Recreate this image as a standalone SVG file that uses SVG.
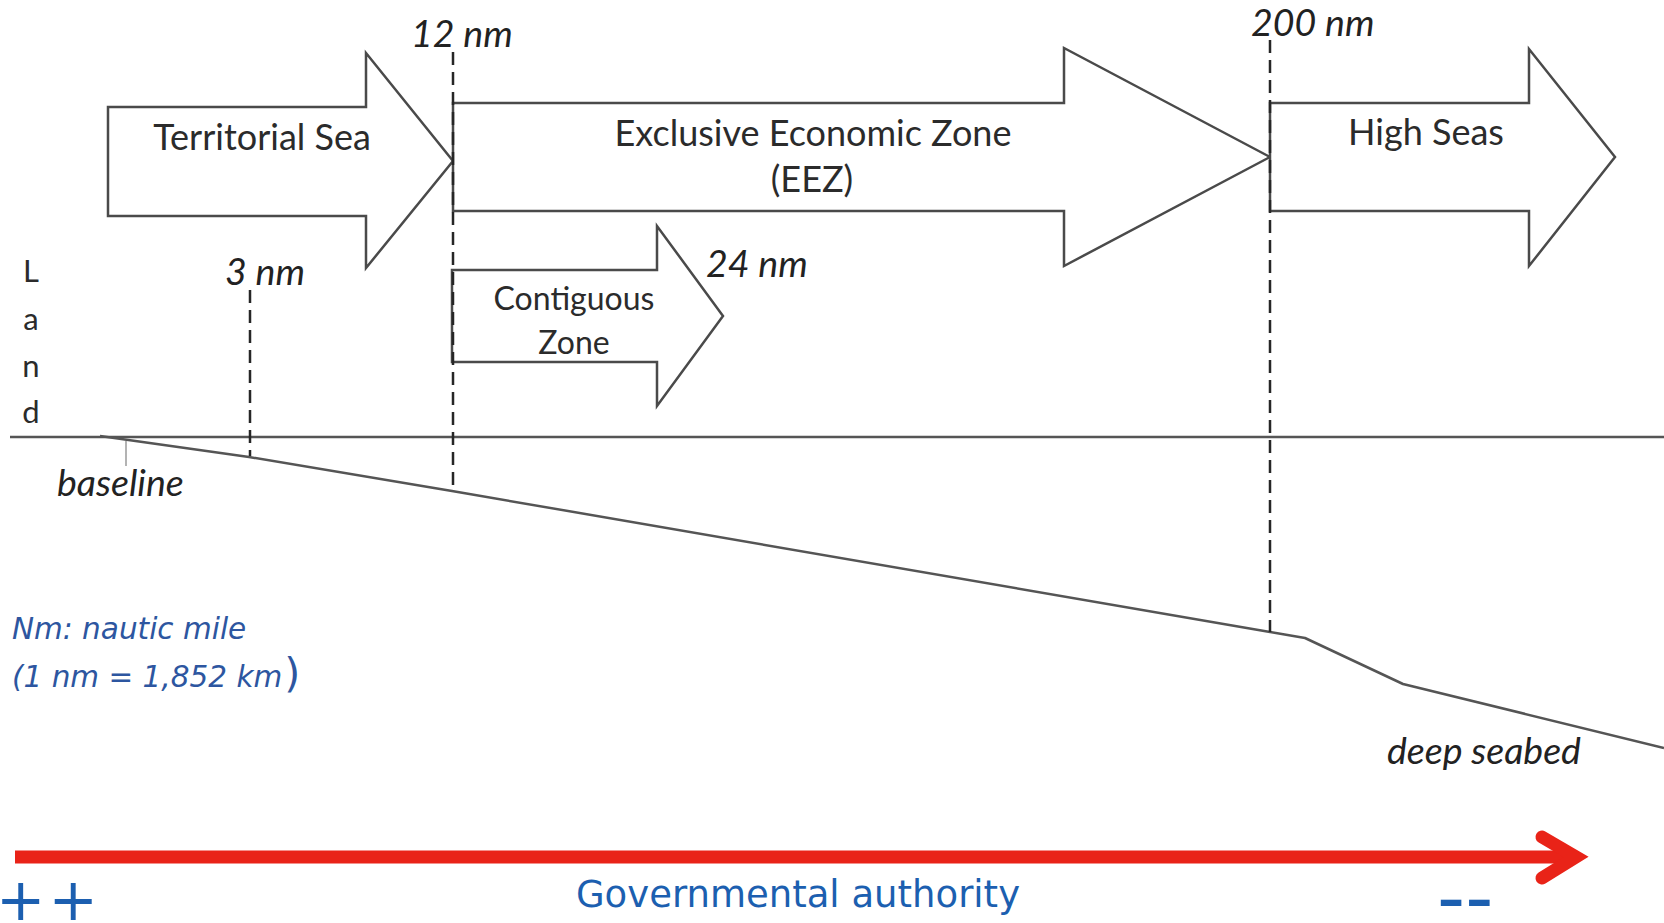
<svg xmlns="http://www.w3.org/2000/svg" width="1664" height="923" viewBox="0 0 1664 923">
  <style>
    .zone { fill: #ffffff; stroke: #4a4a4a; stroke-width: 2.5; stroke-linejoin: miter; }
    .zlabel { font-family: Lato, "Open Sans", sans-serif; font-size: 36px; fill: #2b2b2b; text-anchor: middle; }
    .zlabel.small { font-size: 32px; }
    .dist { font-family: Lato, "Open Sans", sans-serif; font-style: italic; font-size: 37.5px; fill: #222222; }
    .land { font-family: Lato, "Open Sans", sans-serif; font-size: 31px; fill: #2b2b2b; text-anchor: middle; }
    .limit { fill: none; stroke: #262626; stroke-width: 2.5; stroke-dasharray: 13 7; }
    .ground { fill: none; stroke: #555555; stroke-width: 2.5; stroke-linejoin: round; }
    .note { font-family: "DejaVu Sans", Verdana, sans-serif; font-style: italic; font-size: 29.5px; fill: #2d56a0; }
    .gov { font-family: "DejaVu Sans", Verdana, sans-serif; fill: #1c5fb0; }
  </style>

  <rect width="1664" height="923" fill="#ffffff"/>

  <!-- coastline, sea surface and sea floor -->
  <g id="profile">
    <line class="ground" x1="10" y1="437" x2="1664" y2="437" stroke="#666666" stroke-width="3"/>
    <polyline class="ground" points="100,436 249,457 452,491 1270,632 1305,638 1403,684 1664,748"/>
    <line x1="126" y1="441" x2="126" y2="466" stroke="#9a9a9a" stroke-width="1.5"/>
  </g>

  <!-- zone arrows -->
  <g id="territorial-sea">
    <polygon class="zone" points="108,107 366,107 366,53 453,161 366,268 366,216 108,216"/>
    <text class="zlabel" x="262" y="150">Territorial Sea</text>
  </g>
  <g id="eez">
    <polygon class="zone" points="453,103 1064,103 1064,48 1270,157 1064,266 1064,211 453,211"/>
    <text class="zlabel" x="813" y="146">Exclusive Economic Zone</text>
    <text class="zlabel" x="812" y="192">(EEZ)</text>
  </g>
  <g id="contiguous-zone">
    <polygon class="zone" points="452,270 657,270 657,226 723,316 657,406 657,362 452,362"/>
    <text class="zlabel small" x="574" y="310">Contiguous</text>
    <text class="zlabel small" x="574" y="354">Zone</text>
  </g>
  <g id="high-seas">
    <polygon class="zone" points="1270,103 1529,103 1529,49 1615,157 1529,266 1529,211 1270,211"/>
    <text class="zlabel" x="1426" y="145">High Seas</text>
  </g>

  <!-- distance limits -->
  <g id="limits">
    <line class="limit" x1="250" y1="290" x2="250" y2="456"/>
    <line class="limit" x1="453" y1="52" x2="453" y2="491"/>
    <line class="limit" x1="1270" y1="40" x2="1270" y2="632"/>
  </g>

  <g id="distance-labels">
    <text class="dist" x="411" y="47">12 nm</text>
    <text class="dist" x="1251" y="36">200 nm</text>
    <text class="dist" x="225" y="285">3 nm</text>
    <text class="dist" x="706" y="277">24 nm</text>
    <text class="dist" x="57" y="496">baseline</text>
    <text class="dist" x="1387" y="764">deep seabed</text>
  </g>

  <g id="land-label">
    <text class="land" x="31" y="282">L</text>
    <text class="land" x="31" y="330">a</text>
    <text class="land" x="31" y="377">n</text>
    <text class="land" x="31" y="423">d</text>
  </g>

  <g id="unit-note">
    <text class="note" x="12" y="639">Nm: nautic mile</text>
    <text class="note" x="12" y="687">(1 nm = 1,852 km<tspan font-style="normal" font-size="41px" dx="2">)</tspan></text>
  </g>

  <!-- authority gradient -->
  <g id="authority">
    <line x1="15" y1="857" x2="1575" y2="857" stroke="#e92318" stroke-width="13"/>
    <polyline points="1542,837 1576,857 1542,878" fill="none" stroke="#e92318" stroke-width="13" stroke-linecap="round" stroke-linejoin="miter"/>
    <text class="gov" x="798" y="907" font-size="37" text-anchor="middle">Governmental authority</text>
    <text class="gov" x="-4" y="920" font-size="59" letter-spacing="3">++</text>
    <text class="gov" x="1437" y="924" font-size="78">--</text>
  </g>
</svg>
